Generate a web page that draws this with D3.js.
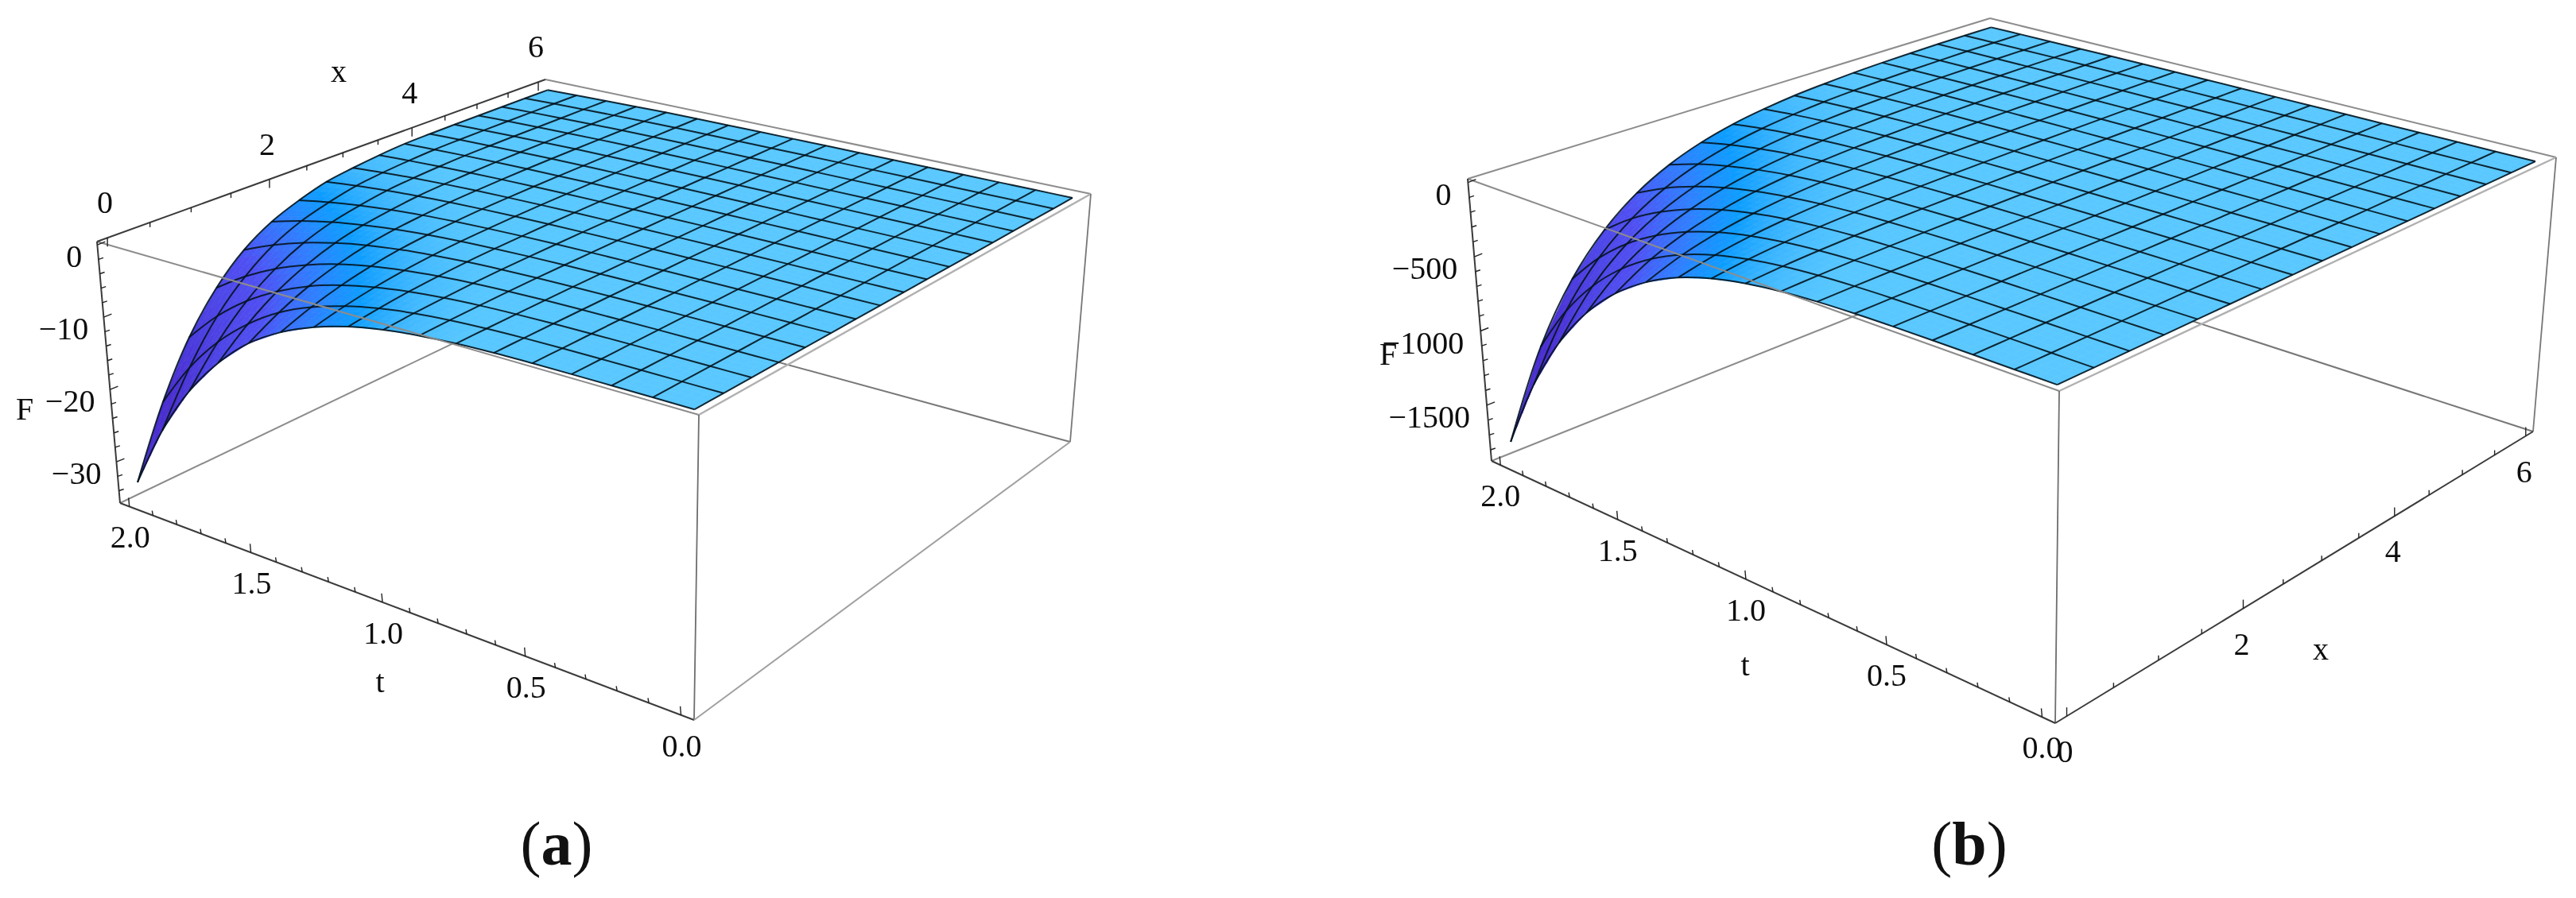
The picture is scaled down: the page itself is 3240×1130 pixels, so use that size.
<!DOCTYPE html>
<html><head><meta charset="utf-8">
<script src="https://cdn.jsdelivr.net/npm/d3@7"></script>
<style>html,body{margin:0;background:#fff}text{font-family:"Liberation Serif",serif;fill:#111}</style>
</head><body><svg id="c" width="3240" height="1130"></svg>
<script>
// ---- axis ticks ----
const xMajor=[0,2,4,6], xMinor=[0.5,1,1.5,2.5,3,3.5,4.5,5,5.5];
const tMajor=[0,0.5,1,1.5,2], tMinor=[0.1,0.2,0.3,0.4,0.6,0.7,0.8,0.9,1.1,1.2,1.3,1.4,1.6,1.7,1.8,1.9];
const xLabels=["0","2","4","6"], tLabels=["0.0","0.5","1.0","1.5","2.0"];
const fMajorA=[0,-10,-20,-30], fMinorA=[-2,-4,-6,-8,-12,-14,-16,-18,-22,-24,-26,-28,-32,-34];
const fLabelsA=["0","−10","−20","−30"];
const fMajorB=[0,-500,-1000,-1500], fMinorB=[-100,-200,-300,-400,-600,-700,-800,-900,-1100,-1200,-1300,-1400,-1600,-1700,-1800];
const fLabelsB=["0","−500","−1000","−1500"];
// ---- mesh nodes (17 x 17) ----
const xNodes=[0,0.375,0.75,1.125,1.5,1.875,2.25,2.625,3,3.375,3.75,4.125,4.5,4.875,5.25,5.625,6];
const tNodes=[0,0.125,0.25,0.375,0.5,0.625,0.75,0.875,1,1.125,1.25,1.375,1.5,1.625,1.75,1.875,2];
// ---- F(x,t) panel (a): one row per t node, one column per x node ----
const surfaceA=[
[0,0,0,0,0,0,0,0,0,0,0,0,0,0,0,0,0],
[0,0,0,0,0,0,0,0,0,0,0,0,0,0,0,0,0],
[0,0,0,0,0,0,0,0,0,0,0,0,0,0,0,0,0],
[-.01,-.01,0,0,0,0,0,0,0,0,0,0,0,0,0,0,0],
[-.05,-.04,-.03,-.02,-.01,-.01,0,0,0,0,0,0,0,0,0,0,0],
[-.14,-.1,-.07,-.05,-.03,-.02,-.01,-.01,-.01,0,0,0,0,0,0,0,0],
[-.33,-.24,-.17,-.11,-.07,-.05,-.03,-.02,-.01,-.01,-.01,-.01,-.01,0,0,0,0],
[-.68,-.49,-.34,-.23,-.15,-.1,-.07,-.04,-.03,-.02,-.02,-.01,-.01,-.01,-.01,-.01,-.01],
[-1.27,-.91,-.64,-.43,-.28,-.19,-.13,-.08,-.06,-.04,-.03,-.02,-.02,-.02,-.02,-.02,-.02],
[-2.2,-1.58,-1.1,-.75,-.49,-.33,-.22,-.14,-.1,-.07,-.05,-.04,-.04,-.03,-.03,-.03,-.03],
[-3.6,-2.59,-1.8,-1.22,-.81,-.53,-.36,-.23,-.16,-.12,-.08,-.06,-.06,-.05,-.05,-.05,-.04],
[-5.6,-4.03,-2.8,-1.9,-1.25,-.83,-.56,-.36,-.25,-.18,-.13,-.1,-.09,-.08,-.08,-.07,-.07],
[-8.4,-6.05,-4.2,-2.86,-1.88,-1.24,-.84,-.54,-.38,-.27,-.19,-.15,-.13,-.12,-.11,-.11,-.1],
[-12.4,-8.93,-6.2,-4.22,-2.78,-1.84,-1.24,-.79,-.56,-.4,-.29,-.24,-.22,-.21,-.2,-.2,-.2],
[-17.6,-12.7,-8.8,-5.98,-3.94,-2.6,-1.76,-1.13,-.79,-.56,-.4,-.35,-.32,-.31,-.3,-.29,-.29],
[-24.4,-17.6,-12.2,-8.3,-5.47,-3.61,-2.44,-1.56,-1.1,-.78,-.56,-.48,-.44,-.42,-.41,-.4,-.4],
[-33,-23.8,-16.5,-11.2,-7.4,-4.9,-3.3,-2.1,-1.5,-1.05,-.75,-.65,-.6,-.58,-.56,-.55,-.55]];
// ---- F(x,t) panel (b) ----
const surfaceB=[
[0,0,0,0,0,0,0,0,0,0,0,0,0,0,0,0,0],
[0,0,0,0,0,0,0,0,0,0,0,0,0,0,0,0,0],
[-.1,-.1,0,0,0,0,0,0,0,0,0,0,0,0,0,0,0],
[-.6,-.4,-.3,-.2,-.1,-.1,-.1,0,0,0,0,0,0,0,0,0,0],
[-2.3,-1.6,-1.1,-.7,-.5,-.4,-.2,-.2,-.1,-.1,-.1,0,0,0,0,0,0],
[-6.6,-4.5,-3.1,-2.1,-1.5,-1,-.7,-.5,-.3,-.2,-.2,-.1,-.1,-.1,0,0,0],
[-16,-11,-7.6,-5.2,-3.6,-2.4,-1.7,-1.2,-.8,-.5,-.4,-.3,-.2,-.1,-.1,-.1,0],
[-33,-22.7,-15.6,-10.7,-7.4,-5,-3.5,-2.4,-1.7,-1.1,-.8,-.5,-.4,-.3,-.2,-.1,-.1],
[-63,-43.3,-29.7,-20.5,-14,-9.6,-6.6,-4.5,-3.2,-2.1,-1.5,-1,-.7,-.5,-.3,-.3,-.2],
[-111,-76.3,-52.4,-36.1,-24.8,-17,-11.7,-8,-5.6,-3.8,-2.7,-1.8,-1.2,-.9,-.6,-.4,-.3],
[-183,-126,-86.4,-59.5,-40.8,-28,-19.2,-13.2,-9.2,-6.2,-4.4,-2.9,-2,-1.5,-.9,-.7,-.5],
[-290,-199,-137,-94.3,-64.7,-44.4,-30.5,-20.9,-14.5,-9.9,-7,-4.6,-3.2,-2.3,-1.5,-1.2,-.9],
[-440,-302,-208,-143,-98.1,-67.3,-46.2,-31.7,-22,-15,-10.6,-7,-4.8,-3.5,-2.2,-1.8,-1.3],
[-646,-444,-305,-210,-144,-98.8,-67.8,-46.5,-32.3,-22,-15.5,-10.3,-7.1,-5.2,-3.6,-3.2,-3],
[-922,-633,-435,-300,-206,-141,-96.8,-66.4,-46.1,-31.3,-22.1,-14.8,-10.1,-7.4,-5,-4.5,-4.2],
[-1283,-881,-606,-417,-286,-196,-135,-92.4,-64.2,-43.6,-30.8,-20.5,-14.1,-10.3,-7,-6.3,-5.9],
[-1750,-1202,-826,-569,-390,-268,-184,-126,-87.5,-59.5,-42,-28,-19.3,-14,-9.5,-8.5,-8]];

const svg=d3.select("#c");
svg.append("defs").append("filter").attr("id","soft").attr("filterUnits","userSpaceOnUse")
  .attr("x",0).attr("y",0).attr("width",3240).attr("height",1130)
  .append("feGaussianBlur").attr("stdDeviation",0.7);

// slope (in normalised box units) -> surface colour
const slopeColor=d3.scaleLinear()
  .domain([0,0.12,0.3,0.6,1,1.8,4.5])
  .range(["#5ac8ff","#58c7ff","#42b9ff","#0f9dff","#2f80ff","#5050f2","#4a2fd0"])
  .clamp(true);

function quad(p0,p1,p2,p3){
  const dx1=p1[0]-p2[0],dx2=p3[0]-p2[0],sx=p0[0]-p1[0]+p2[0]-p3[0];
  const dy1=p1[1]-p2[1],dy2=p3[1]-p2[1],sy=p0[1]-p1[1]+p2[1]-p3[1];
  const den=dx1*dy2-dx2*dy1;
  const g=(sx*dy2-dx2*sy)/den,h=(dx1*sy-sx*dy1)/den;
  const a=p1[0]-p0[0]+g*p1[0],b=p3[0]-p0[0]+h*p3[0],c=p0[0];
  const d=p1[1]-p0[1]+g*p1[1],e=p3[1]-p0[1]+h*p3[1],f=p0[1];
  return (u,v)=>{const k=g*u+h*v+1;return [(a*u+b*v+c)/k,(d*u+e*v+f)/k];};
}

function panel(o){
  const g=svg.append("g").attr("filter","url(#soft)");
  const X=d3.scaleLinear().domain([-0.12,6.12]).range([0,1]);
  const T=d3.scaleLinear().domain([-0.04,2.04]).range([0,1]);
  const F=d3.scaleLinear().domain(o.fDomain).range([0,1]);
  const top=quad(o.FT,o.RT,o.BT,o.LT), bot=quad(o.FB,o.RB,o.BB,o.LB);
  const proj=(u,v,w)=>{const a=top(u,v),b=bot(u,v);return [a[0]+(b[0]-a[0])*w,a[1]+(b[1]-a[1])*w];};
  const P=(x,t,f)=>proj(X(x),T(t),F(f));
  const line=d3.line();
  const seg=(par,a,b,stroke,w)=>par.append("line").attr("x1",a[0]).attr("y1",a[1]).attr("x2",b[0]).attr("y2",b[1])
      .attr("stroke",stroke).attr("stroke-width",w);
  const GREY="#8c8c8c", DARK="#3a3a3a";
  // edges behind the surface
  seg(g,o.LB,o.BB,GREY,2); seg(g,o.RB,o.BB,"#777",2); seg(g,o.BT,o.RT,GREY,2);
  if(!o.xOnTop) seg(g,o.LT,o.BT,GREY,2);
  // node colours
  const S=o.surface,n=xNodes.length,m=tNodes.length;
  const du=X(xNodes[1])-X(xNodes[0]),dv=T(tNodes[1])-T(tNodes[0]);
  const col=S.map((row,j)=>row.map((val,i)=>{
    const a=F(S[j][Math.min(i+1,n-1)])-F(S[j][Math.max(i-1,0)]);
    const b=F(S[Math.min(j+1,m-1)][i])-F(S[Math.max(j-1,0)][i]);
    return Math.hypot(a/(du*(Math.min(i+1,n-1)-Math.max(i-1,0))),b/(dv*(Math.min(j+1,m-1)-Math.max(j-1,0))));
  }));
  // painter's order: far corner first
  const fill=g.append("g");
  const SUB=4;
  for(let j=m-2;j>=0;j--)for(let i=n-2;i>=0;i--){
    const pts=[P(xNodes[i],tNodes[j],S[j][i]),P(xNodes[i+1],tNodes[j],S[j][i+1]),
               P(xNodes[i+1],tNodes[j+1],S[j+1][i+1]),P(xNodes[i],tNodes[j+1],S[j+1][i])];
    const cs=[col[j][i],col[j][i+1],col[j+1][i+1],col[j+1][i]];
    const bil=(arr,a,b)=>arr[0]*(1-a)*(1-b)+arr[1]*a*(1-b)+arr[2]*a*b+arr[3]*(1-a)*b;
    const at=(a,b)=>[bil(pts.map(p=>p[0]),a,b),bil(pts.map(p=>p[1]),a,b)];
    for(let q=SUB-1;q>=0;q--)for(let r=SUB-1;r>=0;r--){
      const a0=r/SUB,a1=(r+1)/SUB,b0=q/SUB,b1=(q+1)/SUB;
      const c=slopeColor(bil(cs,(a0+a1)/2,(b0+b1)/2));
      fill.append("path").attr("d",line([at(a0,b0),at(a1,b0),at(a1,b1),at(a0,b1)])+"Z")
        .attr("fill",c).attr("stroke",c).attr("stroke-width",0.7);
    }
  }
  // mesh lines
  const mesh=g.append("g").attr("fill","none").attr("stroke","#03141e").attr("stroke-width",2).attr("stroke-opacity",0.9);
  const curve=d3.line().curve(d3.curveCatmullRom);
  tNodes.forEach((t,j)=>mesh.append("path").attr("d",curve(xNodes.map((x,i)=>P(x,t,S[j][i])))));
  xNodes.forEach((x,i)=>mesh.append("path").attr("d",curve(tNodes.map((t,j)=>P(x,t,S[j][i])))));
  // front edges
  seg(g,o.LT,o.FT,GREY,2); seg(g,o.FT,o.RT,"#b0b0b0",2.4); seg(g,o.FT,o.FB,"#6e6e6e",1.8);
  seg(g,o.RT,o.RB,"#777",1.8); seg(g,o.LT,o.LB,DARK,2);
  seg(g,o.LB,o.FB,DARK,2);
  if(o.xOnTop){seg(g,o.FB,o.RB,"#a0a0a0",2); seg(g,o.LT,o.BT,DARK,2);} else {seg(g,o.FB,o.RB,DARK,2);}
  // ticks + labels
  const ticks=g.append("g");
  const labs=g.append("g").attr("font-size",o.fontSize);
  const tick=(p,dx,dy)=>seg(ticks,p,[p[0]+dx,p[1]+dy],"#222",1.4);
  const tAt=t=>proj(0,T(t),1), xAt=x=>o.xOnTop?proj(X(x),1,0):proj(X(x),0,1), fAt=f=>proj(0,1,F(f));
  const sx=o.xOnTop?1:-1;
  tMajor.forEach((t,i)=>{const p=tAt(t);tick(p,-1,-11);
    labs.append("text").attr("x",p[0]+o.tOff[0]).attr("y",p[1]+o.tOff[1]).attr("text-anchor","middle").text(tLabels[i]);});
  tMinor.forEach(t=>tick(tAt(t),-1,-6));
  xMajor.forEach((x,i)=>{const p=xAt(x);tick(p,0,11*sx);
    labs.append("text").attr("x",p[0]+o.xOff[0]).attr("y",p[1]+o.xOff[1]).attr("text-anchor","middle").text(xLabels[i]);});
  xMinor.forEach(x=>tick(xAt(x),0,6*sx));
  o.fMajor.forEach((f,i)=>{const p=fAt(f);tick(p,10,-4);
    labs.append("text").attr("x",p[0]+o.fOff[0]).attr("y",p[1]+o.fOff[1]).attr("text-anchor","end").text(o.fLabels[i]);});
  o.fMinor.forEach(f=>tick(fAt(f),6,-2));
  labs.append("text").attr("x",o.tName[0]).attr("y",o.tName[1]).attr("text-anchor","middle").text("t");
  labs.append("text").attr("x",o.xName[0]).attr("y",o.xName[1]).attr("text-anchor","middle").text("x");
  labs.append("text").attr("x",o.fName[0]).attr("y",o.fName[1]).attr("text-anchor","middle").text("F");
}

panel({surface:surfaceA,fDomain:[0.45,-35.7],fMajor:fMajorA,fMinor:fMinorA,fLabels:fLabelsA,xOnTop:true,fontSize:40,
  LT:[122,304],BT:[686,100],RT:[1372,244],FT:[879,522],LB:[151,633],BB:[687,376],RB:[1346,556],FB:[873,906],
  tOff:[1,52],xOff:[-3,-31],fOff:[-19,28],tName:[478,871],xName:[426,103],fName:[31,528]});
panel({surface:surfaceB,fDomain:[25,-1875],fMajor:fMajorB,fMinor:fMinorB,fLabels:fLabelsB,xOnTop:false,fontSize:40,
  LT:[1846,225],BT:[2503,23],RT:[3215,198],FT:[2590,492],LB:[1876,580],BB:[2514,325],RB:[3186,543],FB:[2585,910],
  tOff:[0,52],xOff:[-2,58],fOff:[-21,28],tName:[2195,850],xName:[2919,830],fName:[1746,459]});

function caption(cx,letter){
  const t=svg.append("text").attr("x",cx).attr("y",1088).attr("text-anchor","middle").attr("font-size",78).attr("fill","#000");
  t.append("tspan").text("(");
  t.append("tspan").attr("font-weight","bold").text(letter);
  t.append("tspan").text(")");
}
caption(700,"a"); caption(2477,"b");
</script></body></html>
